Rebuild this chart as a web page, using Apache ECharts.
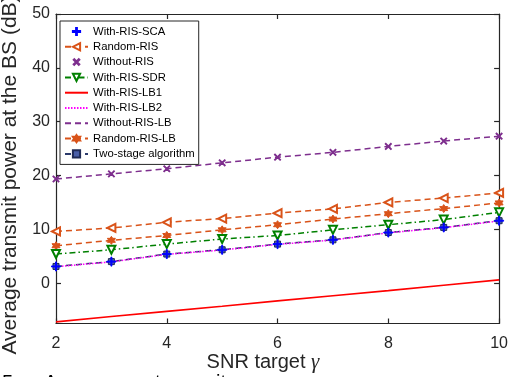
<!DOCTYPE html>
<html>
<head>
<meta charset="utf-8">
<script src="https://cdn.jsdelivr.net/npm/echarts@6/dist/echarts.min.js"></script>
<style>html,body{margin:0;padding:0;background:#fff;}#c{width:511px;height:377px;}</style>
</head>
<body>
<div id="c"></div>
<script>
// ---- data ----
const snr = [2, 3, 4, 5, 6, 7, 8, 9, 10];
const withRisSca   = [3.1, 4.0, 5.4, 6.2, 7.25, 8.05, 9.4, 10.35, 11.6];
const randomRis    = [9.6, 10.25, 11.3, 12.0, 13.0, 13.8, 15.0, 15.8, 16.75];
const withoutRis   = [19.35, 20.3, 21.25, 22.35, 23.4, 24.3, 25.4, 26.4, 27.3];
const withRisSdr   = [5.4, 6.2, 7.25, 8.2, 8.85, 9.9, 10.85, 11.8, 13.15];
const withRisLb1   = [-7.2, -6.2, -5.25, -4.3, -3.3, -2.35, -1.4, -0.4, 0.6];
const withRisLb2   = [3.05, 3.95, 5.35, 6.15, 7.2, 8.0, 9.35, 10.3, 11.55];
const withoutRisLb = [19.35, 20.3, 21.25, 22.35, 23.4, 24.3, 25.4, 26.4, 27.3];
const randomRisLb  = [6.95, 7.95, 8.85, 9.9, 10.85, 11.9, 12.9, 13.85, 14.9];
const twoStage     = [3.1, 4.0, 5.4, 6.2, 7.25, 8.05, 9.4, 10.35, 11.6];
const yTicks = [0, 10, 20, 30, 40, 50];
const xTicks = [2, 4, 6, 8, 10];
const legendNames = ['With-RIS-SCA','Random-RIS','Without-RIS','With-RIS-SDR','With-RIS-LB1','With-RIS-LB2','Without-RIS-LB','Random-RIS-LB','Two-stage algorithm'];
const noMarkerNames = ['With-RIS-LB1', 'With-RIS-LB2', 'Without-RIS-LB'];

const pairs = arr => snr.map((x, i) => [x, arr[i]]);
const AX = '#262626';
const PLUS = 'path://M-0.11,-1H0.11V-0.11H1V0.11H0.11V1H-0.11V0.11H-1V-0.11H-0.11Z';
const HEX = 'path://M0,-1L0.289,-0.5L0.866,-0.5L0.577,0L0.866,0.5L0.289,0.5L0,1L-0.289,0.5L-0.866,0.5L-0.577,0L-0.866,-0.5L-0.289,-0.5Z';

const chart = echarts.init(document.getElementById('c'), null, {renderer: 'canvas'});
const axisCommon = {
  type: 'value',
  axisLine: {show: true, onZero: false, lineStyle: {color: AX, width: 1.2}},
  axisTick: {show: true, inside: true, length: 5, lineStyle: {color: AX, width: 1.2}},
  splitLine: {show: false}
};
function lineSeries(name, data, color, dash, width, symbol, size, extra) {
  return Object.assign({
    name: name, type: 'line', data: pairs(data),
    xAxisIndex: 0, yAxisIndex: 0,
    symbol: symbol || 'none', symbolSize: size || 7, showSymbol: !!symbol,
    lineStyle: {color: color, width: width, type: dash},
    itemStyle: {color: color, borderColor: color, borderWidth: 1},
    animation: false, silent: true
  }, extra || {});
}
const option = {
  animation: false,
  backgroundColor: '#fff',
  textStyle: {fontFamily: 'Liberation Sans, Arial, sans-serif'},
  grid: {left: 56, right: 10, top: 14, bottom: 53.5, show: false},
  xAxis: [
    Object.assign({}, axisCommon, {min: 2, max: 10, interval: 2, position: 'bottom',
      axisLabel: {fontSize: 16, color: AX, margin: 12}}),
    Object.assign({}, axisCommon, {min: 2, max: 10, interval: 2, position: 'top', axisLabel: {show: false}})
  ],
  yAxis: [
    Object.assign({}, axisCommon, {min: -7.5, max: 50, position: 'left',
      axisTick: {show: true, inside: true, length: 5, lineStyle: {color: AX, width: 1.2}, customValues: yTicks},
      axisLabel: {fontSize: 16, color: AX, margin: 6, customValues: yTicks}}),
    Object.assign({}, axisCommon, {min: -7.5, max: 50, position: 'right',
      axisTick: {show: true, inside: true, length: 5, lineStyle: {color: AX, width: 1.2}, customValues: yTicks},
      axisLabel: {show: false}})
  ],
  legend: {
    data: legendNames.map(n => noMarkerNames.indexOf(n) >= 0 ? {name: n, itemStyle: {opacity: 0}} : {name: n}),
    orient: 'vertical', left: 60, top: 21,
    backgroundColor: '#fff', borderColor: AX, borderWidth: 1,
    padding: [4, 4, 4, 4], itemGap: 2.3, itemWidth: 23, itemHeight: 9,
    textStyle: {fontSize: 11.3, color: '#000', lineHeight: 13},
    selectedMode: false
  },
  series: [
    lineSeries('Random-RIS', randomRis, '#d95319', [6, 4], 1.5, 'emptyTriangle', 8, {symbolRotate: 90}),
    lineSeries('Random-RIS-LB', randomRisLb, '#d95319', [6, 4], 1.5, HEX, 8),
    lineSeries('Without-RIS-LB', withoutRisLb, '#7e2f8e', [6, 4], 1.5),
    lineSeries('Without-RIS', withoutRis, '#7e2f8e', 'solid', 1, PLUS, 8,
      {symbolRotate: 45, lineStyle: {color: '#7e2f8e', width: 1, opacity: 0}}),
    lineSeries('With-RIS-SDR', withRisSdr, '#008000', [6, 3, 1.5, 3], 1.5, 'emptyTriangle', 8, {symbolRotate: 180}),
    lineSeries('With-RIS-LB1', withRisLb1, '#ff0000', 'solid', 1.6),
    lineSeries('Two-stage algorithm', twoStage, '#2b3a6b', [6, 4], 1.5, 'rect', 6,
      {itemStyle: {color: '#4a5fa8', borderColor: '#1f2a55', borderWidth: 1}}),
    lineSeries('With-RIS-LB2', withRisLb2, '#ff00ff', [1.5, 1.5], 1.5),
    lineSeries('With-RIS-SCA', withRisSca, '#0000ff', 'solid', 1, PLUS, 9,
      {lineStyle: {color: '#0000ff', width: 1, opacity: 0}})
  ],
  graphic: [
    {type: 'text', x: 10, y: 175, rotation: Math.PI / 2, silent: true,
      style: {text: 'Average transmit power at the BS (dB)', fontSize: 21, fill: AX,
        fontFamily: 'Liberation Sans, Arial, sans-serif', align: 'center', verticalAlign: 'middle'}},
    {type: 'text', x: 263, y: 362, silent: true,
      style: {text: '{a|SNR target }{g|γ}', align: 'center', verticalAlign: 'middle', fill: AX,
        rich: {a: {fontSize: 20, fill: AX, fontFamily: 'Liberation Sans, Arial, sans-serif'},
               g: {fontSize: 21, fill: AX, fontStyle: 'italic', fontFamily: 'Liberation Serif, Times New Roman, serif'}}}},
    {type: 'text', x: 2, y: 373, silent: true, style: {text: '5.', fontSize: 20, fill: '#000', fontFamily: 'Liberation Sans, Arial, sans-serif'}},
    {type: 'text', x: 44, y: 373, silent: true, style: {text: 'Average', fontSize: 20, fill: '#000', fontFamily: 'Liberation Sans, Arial, sans-serif'}},
    {type: 'text', x: 155, y: 373, silent: true, style: {text: 'transmit', fontSize: 20, fill: '#000', fontFamily: 'Liberation Sans, Arial, sans-serif'}}
  ]
};
chart.setOption(option);
</script>
</body>
</html>
